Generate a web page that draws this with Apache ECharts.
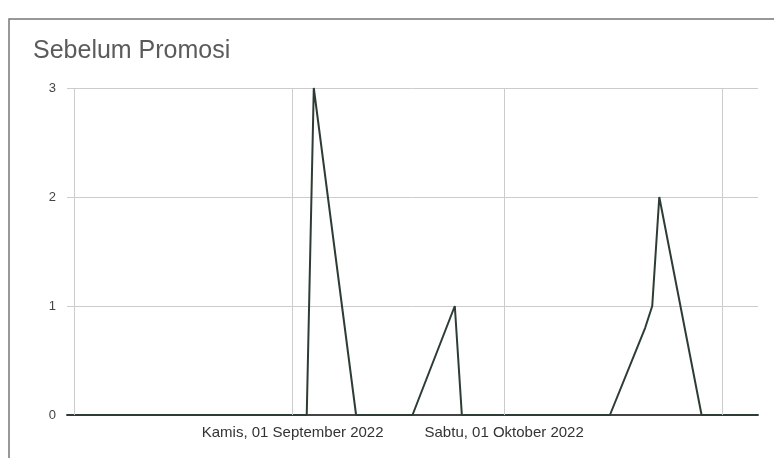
<!DOCTYPE html>
<html>
<head>
<meta charset="utf-8">
<script src="https://cdn.jsdelivr.net/npm/echarts@6/dist/echarts.min.js"></script>
<style>
  html, body { margin: 0; padding: 0; background: #fff; }
  #chart { width: 774px; height: 458px; }
</style>
</head>
<body>
<div id="chart"></div>
<script>
// data
const dates = ['2022-07-31', '2022-09-03', '2022-09-04', '2022-09-10', '2022-09-18', '2022-09-24', '2022-09-25',
  '2022-10-16', '2022-10-21', '2022-10-22', '2022-10-23', '2022-10-29', '2022-11-06'];
const values = [0, 0, 3, 0, 0, 1, 0, 0, 0.8, 1, 2, 0, 0];

const monthLines = ['2022-08-01', '2022-09-01', '2022-10-01', '2022-11-01'];
const labelDates = ['2022-09-01', '2022-10-01'];
const labelTexts = ['Kamis, 01 September 2022', 'Sabtu, 01 Oktober 2022'];
const yTicks = [0, 1, 2, 3];

const toTime = d => echarts.time.parse(d).getTime();
const times = dates.map(toTime);
const labelTimes = labelDates.map(toTime);

const chart = echarts.init(document.getElementById('chart'));

const option = {
  animation: false,
  textStyle: { fontFamily: 'Liberation Sans, Arial, sans-serif' },
  title: {
    text: 'Sebelum Promosi',
    left: 28,
    top: 34,
    textStyle: { fontSize: 25, fontWeight: 'normal', color: '#5b5b5b' }
  },
  graphic: [
    {
      type: 'rect',
      shape: { x: 9, y: 19, width: 900, height: 600 },
      style: { fill: 'none', stroke: '#777', lineWidth: 1.5 },
      silent: true
    }
  ],
  grid: { left: 67, right: 16, top: 88, bottom: 43 },
  xAxis: {
    type: 'value',
    min: times[0],
    max: times[times.length - 1],
    axisLine: { show: true, onZero: false, lineStyle: { color: '#444', width: 2 } },
    axisTick: { show: false },
    splitLine: { show: false },
    axisLabel: {
      customValues: labelTimes,
      margin: 10,
      fontSize: 15,
      color: '#333',
      formatter: function (val) {
        const i = labelTimes.indexOf(val);
        return i >= 0 ? labelTexts[i] : '';
      }
    }
  },
  yAxis: {
    type: 'value',
    min: yTicks[0],
    max: yTicks[yTicks.length - 1],
    interval: 1,
    axisLine: { show: false },
    axisTick: { show: false },
    axisLabel: { fontSize: 13, color: '#444', margin: 11 },
    splitLine: { lineStyle: { color: '#cccccc', width: 1 } }
  },
  series: [
    {
      // vertical month gridlines
      type: 'line',
      data: [],
      z: 1,
      silent: true,
      markLine: {
        silent: true,
        symbol: 'none',
        label: { show: false },
        lineStyle: { color: '#cccccc', type: 'solid', width: 1 },
        data: monthLines.map(d => ({ xAxis: toTime(d) }))
      }
    },
    {
      name: 'Sebelum Promosi',
      type: 'line',
      z: 3,
      data: times.map((t, i) => [t, values[i]]),
      showSymbol: false,
      lineStyle: { color: '#2e3d33', width: 2 },
      itemStyle: { color: '#2e3d33' }
    }
  ]
};

chart.setOption(option);
</script>
</body>
</html>
